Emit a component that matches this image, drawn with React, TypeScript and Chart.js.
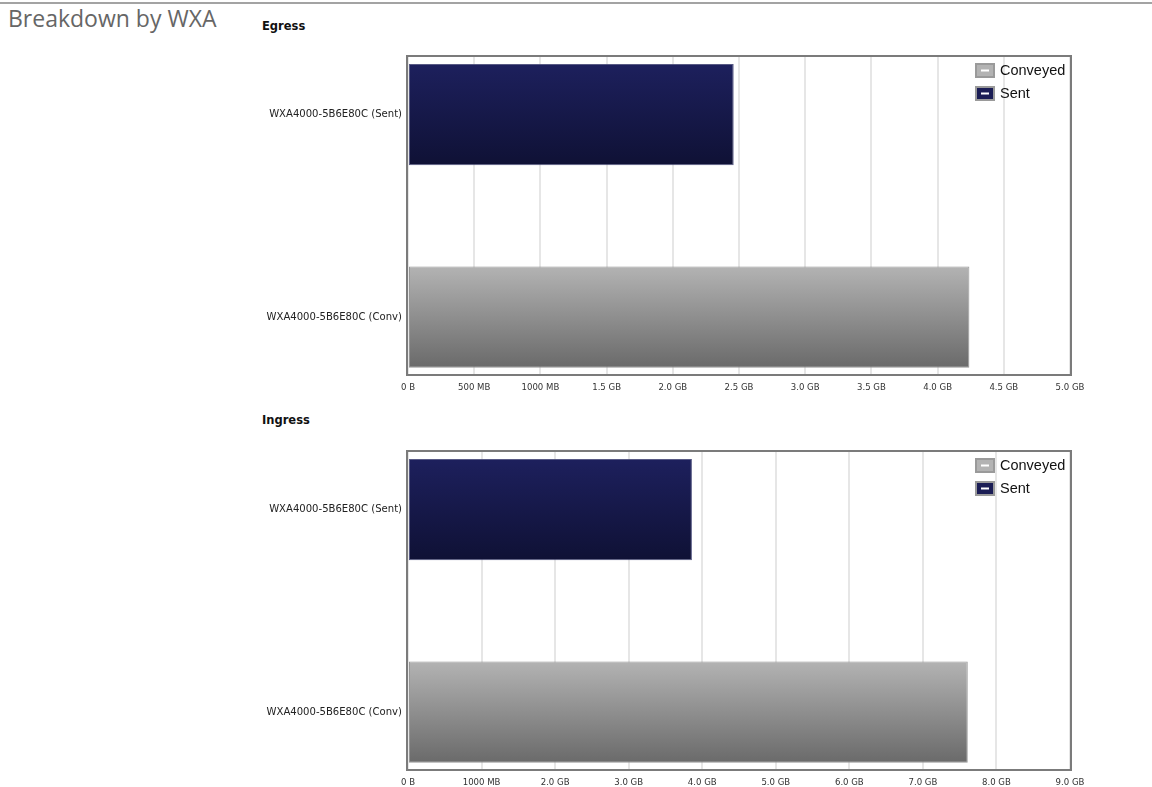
import React, { useEffect, useRef } from 'react';
import { Chart, registerables } from 'chart.js';

Chart.register(...registerables);

// Row labels, top to bottom
const categories = ['WXA4000-5B6E80C (Sent)', 'WXA4000-5B6E80C (Conv)'];
const seriesNames = ['Conveyed', 'Sent'];

// Volumes in GB
const egressSent = 2.46;
const egressConveyed = 4.24;
const ingressSent = 3.86;
const ingressConveyed = 7.61;

// Axis ticks (GB) and their display text
const egressTickValues = [0, 0.5, 1, 1.5, 2, 2.5, 3, 3.5, 4, 4.5, 5];
const egressTickLabels = ['0 B', '500 MB', '1000 MB', '1.5 GB', '2.0 GB', '2.5 GB', '3.0 GB', '3.5 GB', '4.0 GB', '4.5 GB', '5.0 GB'];
const ingressTickValues = [0, 1, 2, 3, 4, 5, 6, 7, 8, 9];
const ingressTickLabels = ['0 B', '1000 MB', '2.0 GB', '3.0 GB', '4.0 GB', '5.0 GB', '6.0 GB', '7.0 GB', '8.0 GB', '9.0 GB'];

const SENT_TOP = '#1d205d';
const SENT_BOTTOM = '#0f1135';
const CONV_TOP = '#b3b3b3';
const CONV_BOTTOM = '#6a6a6a';
const BAR_FRACTION = 0.5;

const condensedFont = '"DejaVu Sans Condensed", "DejaVu Sans", sans-serif';

const barGradient = (top: string, bottom: string) => (c: any) => {
  const chart = c.chart;
  const y = chart.scales && chart.scales.y;
  if (!y || !c.parsed) return bottom;
  const center = y.getPixelForValue(c.parsed.y);
  const half = (Math.abs(y.getPixelForValue(1) - y.getPixelForValue(0)) * BAR_FRACTION) / 2;
  if (!Number.isFinite(center) || !Number.isFinite(half) || half <= 0) return bottom;
  const g = chart.ctx.createLinearGradient(0, center - half, 0, center + half);
  g.addColorStop(0, top);
  g.addColorStop(1, bottom);
  return g;
};

// Grey frame around the plot area plus the boxed legend in its top-right corner
const framePlugin = {
  id: 'frameAndLegend',
  afterDraw(chart: any) {
    const { ctx, chartArea } = chart;
    const { left, top, right, bottom } = chartArea;
    ctx.save();
    ctx.strokeStyle = '#7b7b7b';
    ctx.lineWidth = 2;
    ctx.strokeRect(left - 1, top - 1, right - left + 2, bottom - top + 2);

    const fills = [CONV_TOP, '#1b1d55'];
    seriesNames.forEach((name, i) => {
      const bx = right - 95;
      const by = top + 6 + i * 23;
      ctx.fillStyle = '#9a9a9a';
      ctx.fillRect(bx, by, 20, 15);
      ctx.fillStyle = fills[i];
      ctx.fillRect(bx + 2, by + 2, 16, 11);
      ctx.fillStyle = '#ffffff';
      ctx.fillRect(bx + 6, by + 6.5, 8, 2);
      ctx.fillStyle = '#111111';
      ctx.font = '14.5px "Liberation Sans", sans-serif';
      ctx.textBaseline = 'middle';
      ctx.textAlign = 'left';
      ctx.fillText(name, bx + 25, by + 8);
    });
    ctx.restore();
  },
};

function makeConfig(sent: number, conveyed: number, tickValues: number[], tickLabels: string[]): any {
  return {
    type: 'bar',
    data: {
      datasets: [
        {
          label: seriesNames[0],
          data: [{ x: conveyed, y: 1 }],
          backgroundColor: barGradient(CONV_TOP, CONV_BOTTOM),
          borderColor: 'rgba(140,140,140,0.9)',
          borderWidth: 1,
          borderSkipped: false,
        },
        {
          label: seriesNames[1],
          data: [{ x: sent, y: 0 }],
          backgroundColor: barGradient(SENT_TOP, SENT_BOTTOM),
          borderColor: 'rgba(70,72,120,0.9)',
          borderWidth: 1,
          borderSkipped: false,
        },
      ],
    },
    options: {
      animation: false,
      responsive: false,
      indexAxis: 'y',
      grouped: false,
      barPercentage: BAR_FRACTION,
      categoryPercentage: 1,
      layout: { padding: { top: 9, right: 30, bottom: 8, left: 0 } },
      plugins: { legend: { display: false }, tooltip: { enabled: false } },
      scales: {
        x: {
          type: 'linear',
          min: tickValues[0],
          max: tickValues[tickValues.length - 1],
          afterBuildTicks: (s: any) => {
            s.ticks = tickValues.map((v) => ({ value: v }));
          },
          afterFit: (s: any) => {
            s.height = 26;
          },
          grid: { color: '#e6e6e6', lineWidth: 2, drawTicks: false },
          border: { display: false },
          ticks: {
            autoSkip: false,
            maxRotation: 0,
            padding: 8,
            color: '#333333',
            font: { family: condensedFont, size: 9.5 },
            callback: (_v: any, i: number) => tickLabels[i],
          },
        },
        y: {
          type: 'linear',
          reverse: true,
          offset: false,
          min: -0.284,
          max: 1.281,
          afterBuildTicks: (s: any) => {
            s.ticks = categories.map((_, i) => ({ value: i }));
          },
          afterFit: (s: any) => {
            s.width = 178;
            s.paddingTop = 0;
            s.paddingBottom = 0;
          },
          grid: { display: false, drawTicks: false, offset: false },
          border: { display: false },
          ticks: {
            padding: 6,
            color: '#222222',
            font: { family: condensedFont, size: 11.2 },
            callback: (v: any) => categories[v],
          },
        },
      },
    },
    plugins: [framePlugin],
  };
}

function BarPanel(props: { sent: number; conveyed: number; tickValues: number[]; tickLabels: string[]; top: number }) {
  const ref = useRef<HTMLCanvasElement | null>(null);
  useEffect(() => {
    if (!ref.current) return;
    const chart = new Chart(ref.current, makeConfig(props.sent, props.conveyed, props.tickValues, props.tickLabels));
    return () => chart.destroy();
  }, []);
  return (
    <canvas
      ref={ref}
      width={870}
      height={360}
      style={{ position: 'absolute', left: 230, top: props.top, width: 870, height: 360 }}
    />
  );
}

const sectionStyle: React.CSSProperties = {
  position: 'absolute',
  left: 262,
  font: 'bold 11.5px "DejaVu Sans", sans-serif',
  lineHeight: '12px',
  color: '#111',
};

export default function App() {
  useEffect(() => {
    document.body.style.margin = '0';
  }, []);
  return (
    <div style={{ position: 'relative', width: 1152, height: 787, background: '#fff', overflow: 'hidden' }}>
      <div style={{ position: 'absolute', left: 0, top: 2, width: 1152, height: 2, background: '#a3a3a3' }} />
      <div
        style={{
          position: 'absolute',
          left: 8,
          top: 7,
          font: '23px "Open Sans", sans-serif',
          lineHeight: '23px',
          color: '#666',
          whiteSpace: 'nowrap',
        }}
      >
        Breakdown by WXA
      </div>
      <div style={{ ...sectionStyle, top: 20 }}>Egress</div>
      <BarPanel sent={egressSent} conveyed={egressConveyed} tickValues={egressTickValues} tickLabels={egressTickLabels} top={48} />
      <div style={{ ...sectionStyle, top: 414 }}>Ingress</div>
      <BarPanel sent={ingressSent} conveyed={ingressConveyed} tickValues={ingressTickValues} tickLabels={ingressTickLabels} top={443} />
    </div>
  );
}
